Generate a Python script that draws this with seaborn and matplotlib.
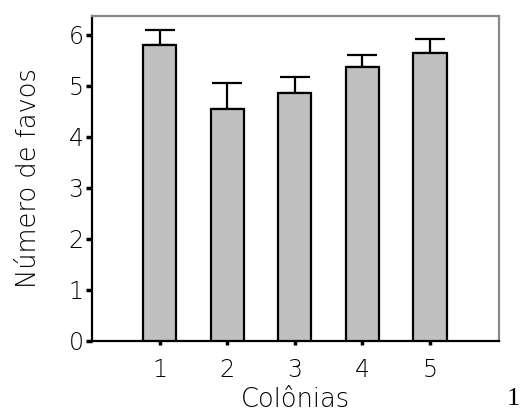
import matplotlib
matplotlib.use("Agg")
import matplotlib.pyplot as plt
import seaborn as sns
import pandas as pd

# Mean number of combs per colony and the upper error (SE)
colonias = ["1", "2", "3", "4", "5"]
media_favos = [5.80, 4.55, 4.86, 5.37, 5.65]
erro_favos = [0.30, 0.51, 0.32, 0.24, 0.27]
yticks = [0, 1, 2, 3, 4, 5, 6]

sns.set_theme(style="white")
plt.rcParams["font.family"] = ["DejaVu Sans"]
plt.rcParams["font.weight"] = 250
plt.rcParams["text.color"] = "black"
plt.rcParams["axes.labelcolor"] = "black"
plt.rcParams["axes.labelweight"] = 250

df = pd.DataFrame({"Colônias": colonias, "Favos": media_favos})

fig = plt.figure(figsize=(5.23, 4.17), dpi=100)
ax = fig.add_axes([92 / 523, 1 - 341 / 417, (499 - 92) / 523, (341 - 16) / 417])

sns.barplot(data=df, x="Colônias", y="Favos", ax=ax, color="#c0c0c0",
            saturation=1, width=0.49, edgecolor="black", linewidth=1.6,
            errorbar=None, zorder=3)

pos = list(range(len(colonias)))
ax.errorbar(pos, media_favos, yerr=[[0] * len(erro_favos), erro_favos],
            fmt="none", ecolor="black", elinewidth=1.6, capsize=11,
            capthick=1.6, zorder=2)

ax.set_xlim(-1.0, 5.02)
ax.set_ylim(0, 6.37)
ax.set_yticks(yticks)
ax.set_yticklabels([str(t) for t in yticks])

for side in ["left", "bottom"]:
    ax.spines[side].set_color("black")
    ax.spines[side].set_linewidth(1.6)
for side in ["top", "right"]:
    ax.spines[side].set_color("#888888")
    ax.spines[side].set_linewidth(1.6)

ax.tick_params(axis="both", direction="out", length=4, width=2.5,
               colors="black", labelsize=17, pad=2, left=True, bottom=True)
ax.tick_params(axis="x", length=3, pad=9)

ax.set_xlabel("Colônias", fontsize=18.5, labelpad=4)
ax.set_ylabel("Número de favos", fontsize=18.5, labelpad=20)

fig.text(513 / 523, 1 - 399 / 417, "1", fontsize=19, ha="center", va="center",
         family=["Liberation Serif", "DejaVu Serif"], weight="normal")

fig.savefig("out.png", dpi=100)
